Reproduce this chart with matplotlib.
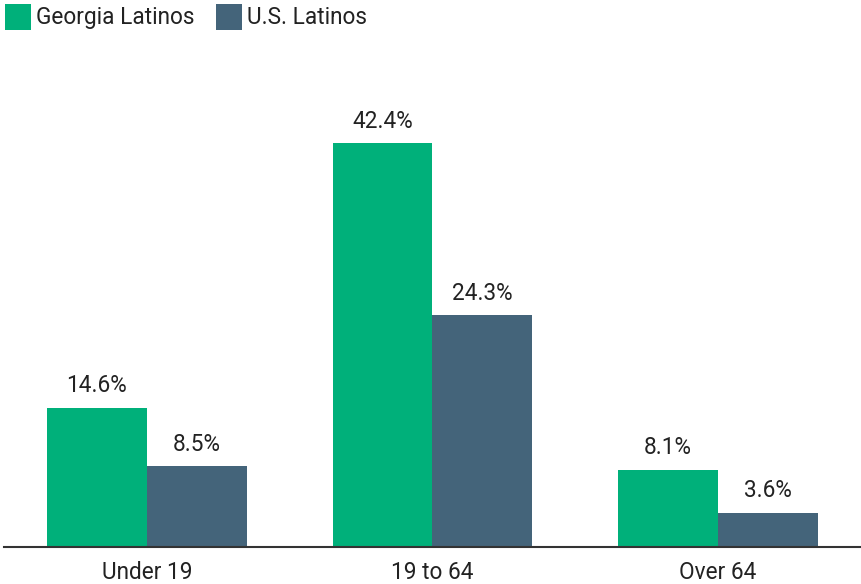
import matplotlib
matplotlib.use("Agg")
import matplotlib.pyplot as plt
from matplotlib.patches import Rectangle

plt.rcParams['font.family'] = ['Roboto', 'DejaVu Sans']

categories = ["Under 19", "19 to 64", "Over 64"]
series_names = ["Georgia Latinos", "U.S. Latinos"]
georgia = [14.6, 42.4, 8.1]
us = [8.5, 24.3, 3.6]
colors = ["#00B07A", "#44647A"]
text_color = "#222222"
fs = 16.3

W, H = 861, 584
fig = plt.figure(figsize=(W / 100, H / 100), dpi=100)
ax = fig.add_axes([4 / W, 37 / H, 857 / W, (547 - 40) / H])

bw = 0.35
x = list(range(len(categories)))
for vals, off, col in ((georgia, -bw / 2, colors[0]), (us, bw / 2, colors[1])):
    xs = [i + off for i in x]
    ax.bar(xs, vals, width=bw, color=col, linewidth=0)
    for xi, v in zip(xs, vals):
        ax.annotate(f"{v}%", (xi, v), xytext=(0, 7.5), textcoords="offset points",
                    ha="center", va="bottom", fontsize=fs, color=text_color)

ax.set_xlim(-0.5, 2.5)
ax.set_ylim(0, 53.2)
ax.set_xticks(x)
ax.set_xticklabels(categories, fontsize=fs, color=text_color)
ax.tick_params(axis="x", length=0, pad=10)
ax.set_yticks([])
for s in ("top", "right", "left"):
    ax.spines[s].set_visible(False)
ax.spines["bottom"].set_color("#333333")
ax.spines["bottom"].set_linewidth(1.5)

# legend drawn in figure pixel coordinates
legend_items = [(5, series_names[0], colors[0]), (216, series_names[1], colors[1])]
for px, label, col in legend_items:
    fig.patches.append(Rectangle((px / W, (H - 30) / H), 26 / W, 26 / H,
                                 transform=fig.transFigure, color=col, linewidth=0))
    fig.text((px + 31) / W, (H - 17.5) / H, label, fontsize=fs, color=text_color,
             ha="left", va="center")

fig.savefig("out.png", dpi=100)
